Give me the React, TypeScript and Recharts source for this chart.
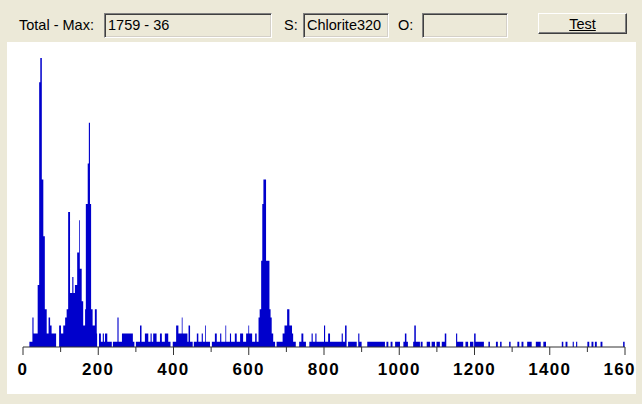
import { AreaChart, Area, XAxis, YAxis } from "recharts";

// spectrum as step points: [channel, count], each count holds until the next channel
const lowEnergy: [number, number][] = [
  [0, 0], [17, 1], [25, 4], [28, 2], [39, 8], [43, 33], [46, 36], [50, 21],
  [54, 14], [58, 5], [63, 2], [68, 4], [72, 3], [76, 2], [88, 0], [96, 3],
  [101, 2], [107, 3], [112, 4], [116, 5], [120, 17], [125, 7], [131, 9],
  [134, 7], [138, 8], [144, 12], [149, 16], [151, 10], [156, 6], [160, 3],
  [165, 5], [167, 18], [172, 23], [175, 28], [178, 18], [181, 5], [185, 3],
  [191, 5], [196, 2], [197, 0],
];

const midEnergy: [number, number][] = [
  [202, 2], [207, 1], [212, 2], [215, 1], [218, 2], [224, 1], [236, 0],
  [239, 1], [251, 4], [254, 1], [263, 2], [292, 1], [296, 0], [300, 1],
  [311, 3], [315, 1], [324, 2], [333, 1], [339, 2], [342, 1], [346, 2],
  [355, 1], [364, 2], [369, 1], [377, 2], [386, 1], [392, 0], [398, 1],
  [407, 3], [413, 2], [422, 4], [424, 2], [437, 1], [440, 3], [444, 1],
  [451, 0], [454, 1], [462, 2], [466, 1], [475, 2], [478, 1], [484, 3],
  [486, 1], [497, 0], [502, 1], [510, 2], [515, 1], [524, 2], [527, 1],
  [538, 3], [540, 1], [550, 2], [553, 1], [563, 2], [568, 1], [577, 2],
  [585, 1], [593, 2], [599, 3], [601, 2], [609, 1], [617, 2], [621, 1],
  [626, 4], [629, 5], [633, 11], [636, 18], [639, 21], [646, 11], [655, 5],
  [658, 4], [661, 2], [665, 1], [670, 0], [674, 1], [690, 2], [695, 3],
  [702, 5], [708, 3],
];

const highEnergy: [number, number][] = [
  [715, 2], [718, 1], [725, 0], [734, 1], [740, 2], [745, 1], [752, 0],
  [761, 1], [767, 2], [770, 1], [777, 2], [780, 1], [800, 3], [803, 1],
  [811, 2], [816, 1], [847, 2], [850, 1], [856, 3], [860, 0], [864, 1],
  [887, 0], [891, 2], [894, 1], [900, 0], [915, 1], [962, 0], [966, 1],
  [971, 0], [977, 1], [982, 0], [989, 1], [1002, 0], [1011, 1], [1015, 2],
  [1019, 1], [1023, 0], [1037, 1], [1040, 3], [1044, 1], [1055, 0],
  [1057, 1], [1062, 0], [1073, 1], [1082, 0], [1086, 1], [1095, 0],
  [1099, 1], [1108, 0], [1113, 1], [1121, 2], [1125, 0], [1151, 2],
  [1154, 1], [1170, 0], [1176, 1], [1183, 0], [1188, 1], [1197, 0],
  [1199, 2], [1203, 1], [1225, 0], [1237, 1], [1241, 0], [1257, 1],
  [1262, 0], [1268, 1], [1272, 0], [1292, 1], [1296, 0], [1314, 1],
  [1319, 0], [1325, 1], [1330, 0], [1340, 1], [1352, 0], [1363, 1],
  [1376, 0], [1383, 1], [1390, 0], [1432, 1], [1436, 0], [1442, 1],
  [1447, 0], [1461, 1], [1464, 0], [1470, 1], [1473, 0], [1500, 1],
  [1505, 0], [1511, 1], [1516, 0], [1520, 1], [1525, 0], [1535, 1],
  [1540, 0], [1595, 1], [1599, 0],
];

const xTicks = [0, 100, 200, 300, 400, 500, 600, 700, 800, 900, 1000, 1100, 1200, 1300, 1400, 1500, 1600];

const totalMax = "1759 - 36";
const sampleName = "Chlorite320";

const PANEL = "#ECE9D8";
const BLUE = "#0000CC";
const UI_FONT = '14.5px/16px "Liberation Sans", Arial, sans-serif';

const spectrum = [...lowEnergy, ...midEnergy, ...highEnergy].map(([channel, count]) => ({
  channel,
  count,
}));

const AxisTick = (props: any) => {
  const { x, y, payload } = props;
  const major = payload.value % 200 === 0;
  return (
    <g>
      <line x1={x} y1={y} x2={x} y2={y + (major ? 8 : 5)} stroke="#333" />
      {major && (
        <text
          x={x}
          y={y + 28}
          textAnchor="middle"
          fontFamily='"Liberation Sans", Arial, sans-serif'
          fontWeight="bold"
          fontSize={17}
          letterSpacing={1.3}
          fill="#000"
        >
          {payload.value}
        </text>
      )}
    </g>
  );
};

const Label = ({ left, text }: { left: number; text: string }) => (
  <div style={{ position: "absolute", left, top: 17, font: UI_FONT, color: "#000", whiteSpace: "nowrap" }}>
    {text}
  </div>
);

const Field = ({ left, width, text }: { left: number; width: number; text?: string }) => (
  <div
    style={{
      position: "absolute",
      left,
      top: 13,
      width,
      height: 25,
      boxSizing: "border-box",
      background: PANEL,
      borderTop: "1px solid #808080",
      borderLeft: "1px solid #808080",
      borderBottom: "1px solid #fff",
      borderRight: "1px solid #fff",
      boxShadow: "inset 1px 1px 0 #404040, inset -1px -1px 0 #D4D0C8",
    }}
  >
    {text && (
      <div style={{ position: "absolute", left: 3, top: 3, font: UI_FONT, color: "#000", whiteSpace: "nowrap" }}>
        {text}
      </div>
    )}
  </div>
);

export default function App() {
  return (
    <div style={{ position: "absolute", left: 0, top: 0, width: 642, height: 404, background: PANEL, overflow: "hidden" }}>
      <Label left={19} text="Total - Max:" />
      <Field left={104} width={168} text={totalMax} />
      <Label left={284} text="S:" />
      <Field left={303} width={86} text={sampleName} />
      <Label left={398} text="O:" />
      <Field left={422} width={86} />
      <div
        style={{
          position: "absolute",
          left: 538,
          top: 13,
          width: 89,
          height: 21,
          boxSizing: "border-box",
          background: PANEL,
          borderTop: "1px solid #fff",
          borderLeft: "1px solid #fff",
          borderBottom: "1px solid #404040",
          borderRight: "1px solid #404040",
          boxShadow: "inset -1px -1px 0 #808080",
        }}
      >
        <div
          style={{
            position: "absolute",
            left: 0,
            right: 0,
            top: 2,
            textAlign: "center",
            font: UI_FONT,
            textDecoration: "underline",
            color: "#000",
          }}
        >
          Test
        </div>
      </div>

      <div style={{ position: "absolute", left: 7, top: 42, width: 629, height: 352, background: "#fff", overflow: "hidden" }}>
        <div style={{ position: "absolute", left: -7, top: -42 }}>
          <AreaChart width={642} height={404} data={spectrum} margin={{ top: 58, right: 17, bottom: 27, left: 23 }}>
            <XAxis
              dataKey="channel"
              type="number"
              domain={[0, 1600]}
              ticks={xTicks}
              interval={0}
              tick={<AxisTick />}
              tickLine={false}
              tickSize={0}
              tickMargin={0}
              axisLine={{ stroke: "#333" }}
              height={30}
            />
            <YAxis hide type="number" domain={[0.35, 36]} allowDataOverflow />
            <Area
              type="stepAfter"
              dataKey="count"
              baseValue={0.35}
              fill={BLUE}
              fillOpacity={1}
              stroke="none"
              isAnimationActive={false}
            />
          </AreaChart>
        </div>
      </div>
    </div>
  );
}
